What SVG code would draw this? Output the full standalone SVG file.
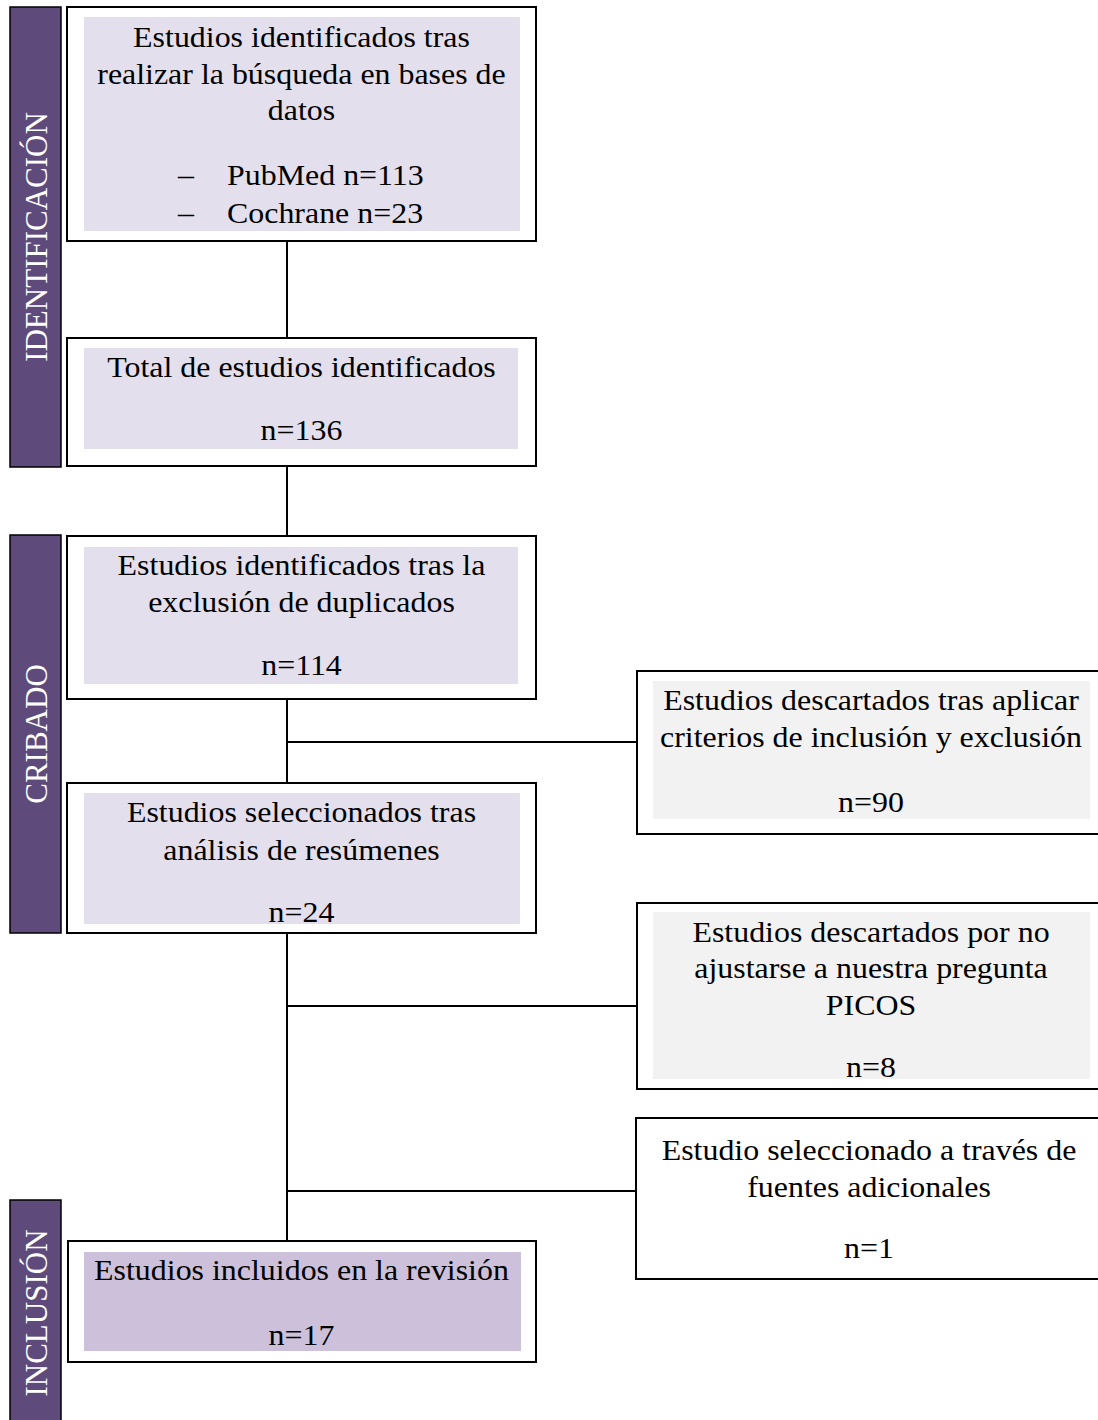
<svg xmlns="http://www.w3.org/2000/svg" width="1098" height="1420" viewBox="0 0 1098 1420">
<style>
.bar{fill:#5f4b7b;stroke:#000;stroke-width:1.5}
.box{fill:#fff;stroke:#000;stroke-width:2}
.inA{fill:#e4dfec}
.inB{fill:#f2f2f2}
.inC{fill:#ccc0da}
.t{font-family:"Liberation Serif","Times New Roman",serif;font-size:28.5px;fill:#000;text-anchor:middle}
.tl{font-family:"Liberation Serif","Times New Roman",serif;font-size:28.5px;fill:#000}
.side{font-family:"Liberation Serif","Times New Roman",serif;font-size:31px;fill:#fff;text-anchor:middle}
.con{stroke:#000;stroke-width:2;fill:none}
</style>
<rect width="1098" height="1420" fill="#fff"/>
<g id="phase-identificacion">
<rect class="bar" x="10" y="7" width="51" height="460"/>
<text class="side" transform="translate(47,237) rotate(-90)">IDENTIFICACIÓN</text>
</g>
<g id="phase-cribado">
<rect class="bar" x="10" y="535" width="51" height="398"/>
<text class="side" transform="translate(47,734) rotate(-90)">CRIBADO</text>
</g>
<g id="phase-inclusion">
<rect class="bar" x="10" y="1200" width="51" height="230"/>
<text class="side" transform="translate(47,1313) rotate(-90)">INCLUSIÓN</text>
</g>
<g id="connectors">
<line class="con" x1="287" y1="241" x2="287" y2="338"/>
<line class="con" x1="287" y1="466" x2="287" y2="536"/>
<line class="con" x1="287" y1="699" x2="287" y2="783"/>
<line class="con" x1="287" y1="933" x2="287" y2="1241"/>
<line class="con" x1="287" y1="742" x2="637" y2="742"/>
<line class="con" x1="287" y1="1006" x2="637" y2="1006"/>
<line class="con" x1="287" y1="1191" x2="636" y2="1191"/>
</g>
<g id="n1">
<rect class="box" x="67" y="7" width="469" height="234"/>
<rect class="inA" x="84" y="17" width="436" height="214"/>
<text class="t" transform="translate(301.5,47) scale(1.12,1)">Estudios identificados tras</text>
<text class="t" transform="translate(301.5,84) scale(1.12,1)">realizar la búsqueda en bases de</text>
<text class="t" transform="translate(301.5,120) scale(1.12,1)">datos</text>
<text class="tl" transform="translate(178,185) scale(1.12,1)">–</text>
<text class="tl" transform="translate(227,185) scale(1.12,1)">PubMed n=113</text>
<text class="tl" transform="translate(178,223) scale(1.12,1)">–</text>
<text class="tl" transform="translate(227,223) scale(1.12,1)">Cochrane n=23</text>
</g>
<g id="n2">
<rect class="box" x="67" y="338" width="469" height="128"/>
<rect class="inA" x="84" y="348" width="434" height="101"/>
<text class="t" transform="translate(301.5,377) scale(1.12,1)">Total de estudios identificados</text>
<text class="t" transform="translate(301.5,440) scale(1.12,1)">n=136</text>
</g>
<g id="n3">
<rect class="box" x="67" y="536" width="469" height="163"/>
<rect class="inA" x="84" y="547" width="434" height="137"/>
<text class="t" transform="translate(301.5,575) scale(1.12,1)">Estudios identificados tras la</text>
<text class="t" transform="translate(301.5,612) scale(1.12,1)">exclusión de duplicados</text>
<text class="t" transform="translate(301.5,675) scale(1.12,1)">n=114</text>
</g>
<g id="n4">
<rect class="box" x="67" y="783" width="469" height="150"/>
<rect class="inA" x="84" y="793" width="436" height="131"/>
<text class="t" transform="translate(301.5,822) scale(1.12,1)">Estudios seleccionados tras</text>
<text class="t" transform="translate(301.5,860) scale(1.12,1)">análisis de resúmenes</text>
<text class="t" transform="translate(301.5,922) scale(1.12,1)">n=24</text>
</g>
<g id="n5">
<rect class="box" x="637" y="671" width="480" height="163"/>
<rect class="inB" x="653" y="681" width="437" height="138"/>
<text class="t" transform="translate(871,710) scale(1.12,1)">Estudios descartados tras aplicar</text>
<text class="t" transform="translate(871,747) scale(1.12,1)">criterios de inclusión y exclusión</text>
<text class="t" transform="translate(871,812) scale(1.12,1)">n=90</text>
</g>
<g id="n6">
<rect class="box" x="637" y="903" width="480" height="186"/>
<rect class="inB" x="653" y="912" width="437" height="167"/>
<text class="t" transform="translate(871,942) scale(1.12,1)">Estudios descartados por no</text>
<text class="t" transform="translate(871,978) scale(1.12,1)">ajustarse a nuestra pregunta</text>
<text class="t" transform="translate(871,1015) scale(1.12,1)">PICOS</text>
<text class="t" transform="translate(871,1077) scale(1.12,1)">n=8</text>
</g>
<g id="n7">
<rect class="box" x="636" y="1118" width="480" height="161"/>
<text class="t" transform="translate(869,1160) scale(1.12,1)">Estudio seleccionado a través de</text>
<text class="t" transform="translate(869,1197) scale(1.12,1)">fuentes adicionales</text>
<text class="t" transform="translate(869,1258) scale(1.12,1)">n=1</text>
</g>
<g id="n8">
<rect class="box" x="68" y="1241" width="468" height="121"/>
<rect class="inC" x="84" y="1252" width="437" height="99"/>
<text class="t" transform="translate(301.5,1280) scale(1.12,1)">Estudios incluidos en la revisión</text>
<text class="t" transform="translate(301.5,1345) scale(1.12,1)">n=17</text>
</g>
</svg>
